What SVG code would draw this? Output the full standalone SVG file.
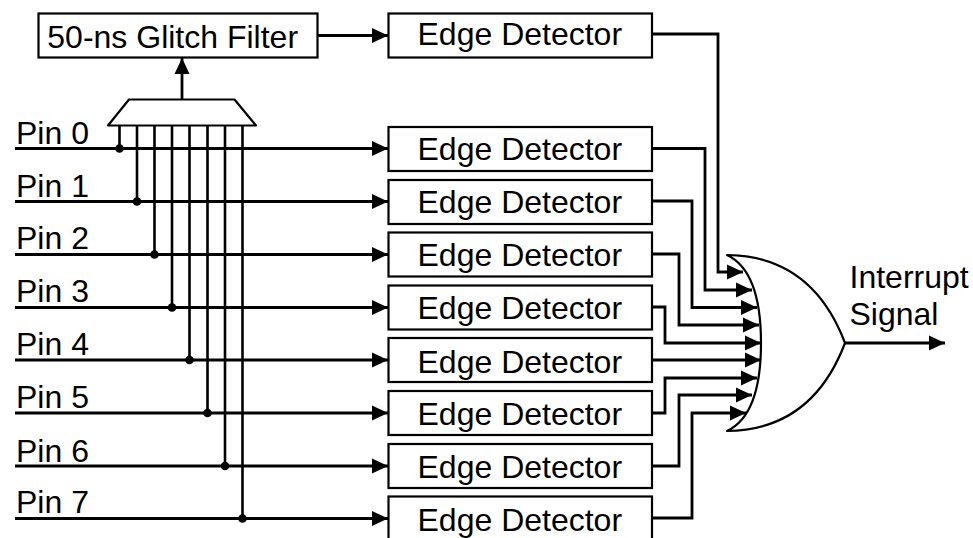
<svg xmlns="http://www.w3.org/2000/svg" width="973" height="538" viewBox="0 0 973 538">
<style>
text{font-family:"Liberation Sans",Arial,sans-serif;font-size:32px;fill:#000}
.box{fill:#fff;stroke:#000;stroke-width:2.2}
.w{fill:none;stroke:#000;stroke-width:2.8;stroke-linejoin:miter}
.t{stroke-width:2.6}
.gate{fill:#fff;stroke:#000;stroke-width:2.2;stroke-linejoin:round}
.d{fill:#000}
</style>
<defs>
<marker id="a" markerUnits="userSpaceOnUse" markerWidth="16" markerHeight="16" refX="16" refY="8" orient="auto"><path d="M0 0.500L16 8L0 15.500Z" fill="#000"/></marker>
</defs>
<rect width="973" height="538" fill="#fff"/>
<g id="or-gate"><path class="gate" d="M727 255Q812 256 845 343Q812 430 727 431Q761 415 761 343Q761 271 727 255Z"/></g>
<g id="mux"><path class="gate" d="M108 125.500L129 99.500H234.500L256 125.500Z"/></g>
<g id="connectors">
<g class="w">
<path d="M15 148.500H388" marker-end="url(#a)"/>
<path d="M15 201.500H388" marker-end="url(#a)"/>
<path d="M15 254.500H388" marker-end="url(#a)"/>
<path d="M15 307.500H388" marker-end="url(#a)"/>
<path d="M15 360H388" marker-end="url(#a)"/>
<path d="M15 413H388" marker-end="url(#a)"/>
<path d="M15 466H388" marker-end="url(#a)"/>
<path d="M15 518.500H388" marker-end="url(#a)"/>
<path d="M318 35.500H388" marker-end="url(#a)"/>
<path d="M182 99V58" marker-end="url(#a)"/>
<path class="t" d="M119.500 126V148.500M137 126V201.500M154.500 126V254.500M172 126V307.500M189.500 126V360M207.500 126V413M225 126V466M242.500 126V518.500"/>
<path d="M652 34H718V272H743" marker-end="url(#a)"/>
<path d="M652 148.500H705V290H752" marker-end="url(#a)"/>
<path d="M652 201H692V307.500H757" marker-end="url(#a)"/>
<path d="M652 254H679V325H759" marker-end="url(#a)"/>
<path d="M652 307H665V343H761" marker-end="url(#a)"/>
<path d="M652 360H761" marker-end="url(#a)"/>
<path d="M652 413H665V378H757" marker-end="url(#a)"/>
<path d="M652 466H679V395H752" marker-end="url(#a)"/>
<path d="M652 518H692V413H746" marker-end="url(#a)"/>
<path d="M845 343H945" marker-end="url(#a)"/>
</g>
<g class="d">
<circle cx="119.500" cy="148.500" r="4.300"/><circle cx="137" cy="201.500" r="4.300"/><circle cx="154.500" cy="254.500" r="4.300"/><circle cx="172" cy="307.500" r="4.300"/><circle cx="189.500" cy="360" r="4.300"/><circle cx="207.500" cy="413" r="4.300"/><circle cx="225" cy="466" r="4.300"/><circle cx="242.500" cy="518.500" r="4.300"/>
</g>
</g>
<g id="filter"><rect class="box" x="38.500" y="13.500" width="279" height="44"/><text x="47.300" y="47.500">50-ns Glitch Filter</text></g>
<g id="ed-top"><rect class="box" x="388.500" y="13.500" width="263.500" height="44"/><text x="417.500" y="44.500">Edge Detector</text></g>
<g id="ed0"><rect class="box" x="388.500" y="127" width="263.500" height="44"/><text x="417.500" y="160">Edge Detector</text></g>
<g id="ed1"><rect class="box" x="388.500" y="180" width="263.500" height="44"/><text x="417.500" y="213">Edge Detector</text></g>
<g id="ed2"><rect class="box" x="388.500" y="232.500" width="263.500" height="44"/><text x="417.500" y="266">Edge Detector</text></g>
<g id="ed3"><rect class="box" x="388.500" y="285.500" width="263.500" height="44"/><text x="417.500" y="319">Edge Detector</text></g>
<g id="ed4"><rect class="box" x="388.500" y="338" width="263.500" height="44"/><text x="417.500" y="372.500">Edge Detector</text></g>
<g id="ed5"><rect class="box" x="388.500" y="391" width="263.500" height="44"/><text x="417.500" y="425">Edge Detector</text></g>
<g id="ed6"><rect class="box" x="388.500" y="444" width="263.500" height="44"/><text x="417.500" y="477.500">Edge Detector</text></g>
<g id="ed7"><rect class="box" x="388.500" y="496.500" width="263.500" height="44"/><text x="417.500" y="530.500">Edge Detector</text></g>
<g id="pins">
<text x="16" y="144">Pin 0</text><text x="16" y="196.500">Pin 1</text><text x="16" y="248.500">Pin 2</text><text x="16" y="302">Pin 3</text><text x="16" y="355">Pin 4</text><text x="16" y="407.500">Pin 5</text><text x="16" y="461.500">Pin 6</text><text x="16" y="513">Pin 7</text>
</g>
<g id="output-label"><text x="849.500" y="287.500">Interrupt</text><text x="849.500" y="325">Signal</text></g>
</svg>
